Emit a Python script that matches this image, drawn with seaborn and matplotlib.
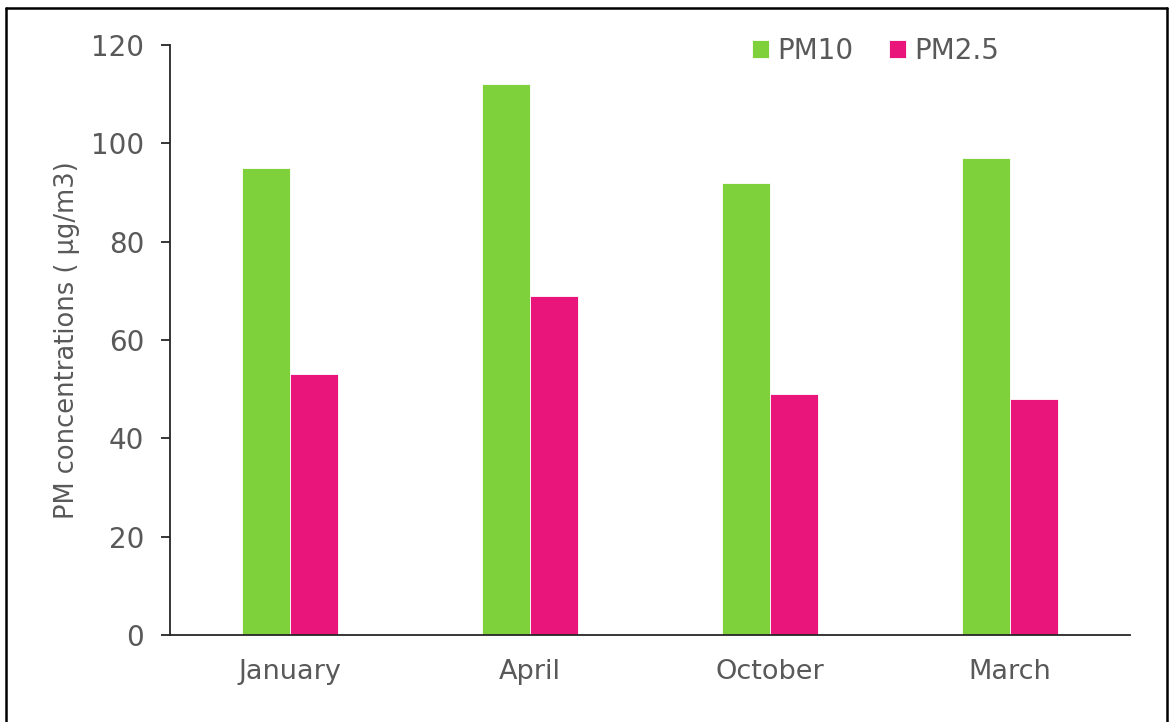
import matplotlib
matplotlib.use("Agg")
import matplotlib.pyplot as plt
from matplotlib.lines import Line2D
import pandas as pd
import seaborn as sns

months = ["January", "April", "October", "March"]
pm10 = [95, 112, 92, 97]
pm25 = [53, 69, 49, 48]
series = ["PM10", "PM2.5"]
colors = ["#7FD13B", "#EA157A"]
yticks = [0, 20, 40, 60, 80, 100, 120]

df = pd.DataFrame({
    "month": months * 2,
    "value": pm10 + pm25,
    "series": [series[0]] * len(months) + [series[1]] * len(months),
})

sns.set_style("white")
plt.rcParams["font.family"] = ["DejaVu Sans"]
grey = "#595959"

fig = plt.figure(figsize=(11.69, 7.22), dpi=100)
ax = fig.add_axes([170 / 1169, 1 - 635 / 722, 960 / 1169, 590 / 722])
sns.barplot(data=df, x="month", y="value", hue="series", order=months,
            hue_order=series, palette=colors, width=0.4, saturation=1,
            edgecolor="white", linewidth=0.6, ax=ax)

ax.set_xlim(-0.5, len(months) - 0.5)
ax.set_ylim(0, 120)
ax.set_yticks(yticks)
ax.set_xlabel("")
ax.set_ylabel("PM concentrations ( μg/m3)", fontsize=18.5, color=grey)
ax.yaxis.set_label_coords(-0.094, 0.5)
for s in ["top", "right"]:
    ax.spines[s].set_visible(False)
for s in ["left", "bottom"]:
    ax.spines[s].set_color("#262626")
    ax.spines[s].set_linewidth(1.3)
ax.tick_params(axis="y", direction="out", length=6.5, width=1.3, color="#262626",
               labelsize=20, labelcolor=grey, pad=12, left=True)
ax.tick_params(axis="x", length=0, labelsize=19.5, labelcolor=grey, pad=17)

leg = ax.legend(loc="center", bbox_to_anchor=(0.735, 0.99), ncol=2, frameon=False,
                fontsize=20, handlelength=0.6, handleheight=0.6, handletextpad=0.3,
                columnspacing=1.3, labelcolor=grey)

# figure border
for xs, ys in [([5.5 / 1169, 5.5 / 1169], [0, 1 - 8 / 722]),
               ([5.5 / 1169, 1166.5 / 1169], [1 - 8 / 722, 1 - 8 / 722]),
               ([1166.5 / 1169, 1166.5 / 1169], [0, 1 - 8 / 722])]:
    fig.add_artist(Line2D(xs, ys, color="black", linewidth=1.8))

fig.savefig("out.png", dpi=100)
